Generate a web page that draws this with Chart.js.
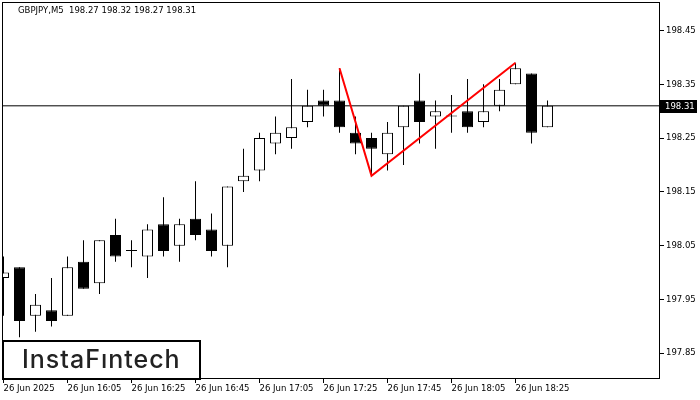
<!DOCTYPE html>
<html>
<head>
<meta charset="utf-8">
<script src="https://cdn.jsdelivr.net/npm/chart.js@4.4.1/dist/chart.umd.min.js"></script>
<style>
  html, body { margin: 0; padding: 0; background: #fff; }
  #wrap { width: 700px; height: 400px; }
</style>
</head>
<body>
<div id="wrap"><canvas id="graficoVelas"></canvas></div>
<script>
// Encabezado del gráfico
const symbolTitle = 'GBPJPY,M5  198.27 198.32 198.27 198.31';

// Velas M5 (índice 0 = 15:45)
const opens  = [197.99, 198.01, 197.92, 197.93, 197.92, 198.02, 197.98, 198.07, 198.04, 198.03,
                198.09, 198.05, 198.10, 198.08, 198.05, 198.17, 198.19, 198.24, 198.25, 198.28,
                198.32, 198.32, 198.26, 198.25, 198.22, 198.27, 198.32, 198.29, 198.29, 198.30,
                198.28, 198.31, 198.35, 198.37, 198.27];
const highs  = [198.03, 198.01, 197.96, 197.99, 198.03, 198.06, 198.06, 198.10, 198.06, 198.09,
                198.14, 198.10, 198.17, 198.11, 198.16, 198.23, 198.26, 198.29, 198.36, 198.34,
                198.34, 198.38, 198.29, 198.26, 198.28, 198.31, 198.37, 198.32, 198.33, 198.36,
                198.35, 198.36, 198.39, 198.37, 198.32];
const lows   = [197.92, 197.88, 197.89, 197.90, 197.92, 197.97, 197.96, 198.02, 198.01, 197.99,
                198.03, 198.02, 198.06, 198.03, 198.01, 198.15, 198.17, 198.22, 198.23, 198.27,
                198.29, 198.26, 198.22, 198.18, 198.19, 198.20, 198.24, 198.23, 198.26, 198.26,
                198.27, 198.30, 198.35, 198.24, 198.27];
const closes = [198.00, 197.91, 197.94, 197.91, 198.01, 197.97, 198.06, 198.03, 198.04, 198.08,
                198.04, 198.09, 198.07, 198.04, 198.16, 198.18, 198.25, 198.26, 198.27, 198.31,
                198.31, 198.27, 198.24, 198.23, 198.26, 198.31, 198.28, 198.30, 198.29, 198.27,
                198.30, 198.34, 198.38, 198.26, 198.31];

// Etiquetas de los ejes
const xTickIdx = [0, 4, 8, 12, 16, 20, 24, 28, 32];
const xTickLabels = ['26 Jun 2025', '26 Jun 16:05', '26 Jun 16:25', '26 Jun 16:45', '26 Jun 17:05',
                     '26 Jun 17:25', '26 Jun 17:45', '26 Jun 18:05', '26 Jun 18:25'];
const yTicks = [197.85, 197.95, 198.05, 198.15, 198.25, 198.35, 198.45];

// Patrón (línea roja) y precio actual
const patternX = [21, 23, 32];
const patternY = [198.38, 198.18, 198.39];
const bidPrice = 198.31;

const X_MIN = -0.09375, X_MAX = 41.03;
const Y_MIN = 197.8022, Y_MAX = 198.503;

const idx = opens.map((_, i) => i);
const smallFont = { family: 'DejaVu Sans', size: 8.5 };

const decorPlugin = {
  id: 'decor',
  afterDatasetsDraw(chart) {
    const { ctx, chartArea: a } = chart;
    ctx.save();
    ctx.strokeStyle = '#000';
    ctx.lineWidth = 1;
    ctx.strokeRect(a.left + 0.5, a.top + 0.5, a.right - a.left - 1, a.bottom - a.top - 1);
    ctx.restore();
  },
  afterDraw(chart) {
    const { ctx } = chart;
    const ys = chart.scales.y;
    ctx.save();
    // encabezado
    ctx.fillStyle = '#000';
    ctx.font = '8.5px "DejaVu Sans"';
    ctx.textBaseline = 'middle';
    ctx.textAlign = 'left';
    ctx.fillText(symbolTitle, 18, 11);
    // etiqueta del precio actual
    const py = Math.round(ys.getPixelForValue(bidPrice));
    ctx.fillRect(660, py - 6, 37, 13);
    ctx.fillStyle = '#fff';
    ctx.fillText(bidPrice.toFixed(2), 665, py + 0.5);
    // logo
    ctx.fillStyle = '#fff';
    ctx.fillRect(3, 341, 197, 38);
    ctx.strokeStyle = '#000';
    ctx.lineWidth = 2;
    ctx.strokeRect(3, 341, 197, 38);
    ctx.fillStyle = '#222';
    ctx.font = '500 25px Inter';
    ctx.letterSpacing = '1px';
    ctx.textBaseline = 'alphabetic';
    ctx.fillText('InstaFıntech', 22, 368);
    ctx.restore();
  }
};

new Chart(document.getElementById('graficoVelas'), {
  type: 'bar',
  data: {
    datasets: [
      {
        type: 'line',
        data: patternX.map((x, k) => ({ x: x, y: patternY[k] })),
        borderColor: '#ff0000',
        borderWidth: 2,
        pointRadius: 0,
        tension: 0,
        order: 0
      },
      {
        data: idx.map(i => ({ x: i, y: [opens[i], closes[i]] })),
        backgroundColor: idx.map(i => closes[i] > opens[i] ? '#ffffff' : '#000000'),
        borderColor: '#000',
        borderWidth: 1,
        borderSkipped: false,
        barThickness: 11,
        minBarLength: 1,
        inflateAmount: 0,
        grouped: false,
        order: 1
      },
      {
        data: idx.map(i => ({ x: i, y: [lows[i], highs[i]] })),
        backgroundColor: '#000',
        borderWidth: 0,
        barThickness: 1,
        inflateAmount: 0,
        grouped: false,
        order: 2
      },
      {
        type: 'line',
        data: [{ x: X_MIN, y: bidPrice }, { x: X_MAX, y: bidPrice }],
        borderColor: '#000',
        borderWidth: 1,
        pointRadius: 0,
        order: 3
      }
    ]
  },
  options: {
    responsive: true,
    maintainAspectRatio: false,
    animation: false,
    events: [],
    layout: { padding: { left: 2, top: 2, right: 0, bottom: 0 } },
    plugins: {
      legend: { display: false },
      tooltip: { enabled: false }
    },
    scales: {
      x: {
        type: 'linear',
        min: X_MIN,
        max: X_MAX,
        offset: false,
        grid: { offset: false, drawOnChartArea: false, tickLength: 4, color: '#000' },
        border: { display: false },
        afterBuildTicks: s => { s.ticks = xTickIdx.map(v => ({ value: v })); },
        afterFit: s => { s.height = 21; s.paddingLeft = 0; s.paddingRight = 0; },
        ticks: {
          autoSkip: false,
          maxRotation: 0,
          align: 'start',
          padding: 1,
          color: '#000',
          font: smallFont,
          callback: (v, i) => xTickLabels[i]
        }
      },
      y: {
        type: 'linear',
        position: 'right',
        min: Y_MIN,
        max: Y_MAX,
        beginAtZero: false,
        grid: { drawOnChartArea: false, tickLength: 4, color: '#000' },
        border: { display: false },
        afterBuildTicks: s => { s.ticks = yTicks.map(v => ({ value: v })); },
        afterFit: s => { s.width = 40; s.paddingTop = 0; s.paddingBottom = 0; },
        ticks: {
          padding: 2,
          color: '#000',
          font: smallFont,
          callback: v => Number(v).toFixed(2)
        }
      }
    }
  },
  plugins: [decorPlugin]
});
</script>
</body>
</html>
